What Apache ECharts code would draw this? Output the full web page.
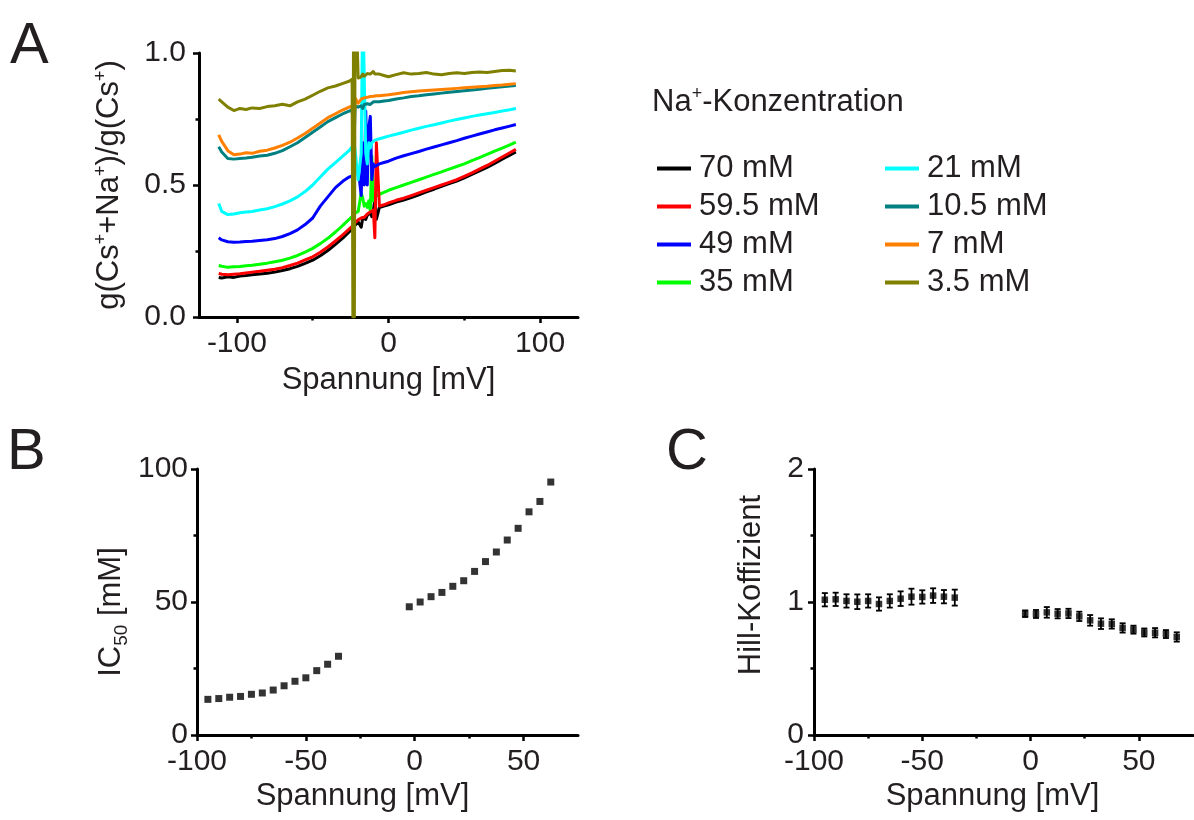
<!DOCTYPE html>
<html><head><meta charset="utf-8">
<script src="https://cdn.jsdelivr.net/npm/echarts@6/dist/echarts.min.js"></script>
<style>html,body{margin:0;padding:0;background:#fff}#c{width:1194px;height:820px}</style>
</head><body><div id="c"></div>
<script>
// ---------- Panel A data ----------
const voltageA = [-112,-110,-106,-102,-98,-94,-90,-85,-80,-75,-70,-65,-60,-55,-50,-45,-40,-35,-30,-26,-24,-23.5,-23,-22.5,-22,-20,-18,-17,-16,-15,-14,-13,-12,-11,-10,-9,-8,-6,-3,0,5,10,15,20,25,30,35,40,45,50,55,60,65,70,75,80,84];
const na70 = [0.150,0.148,0.152,0.150,0.155,0.157,0.160,0.163,0.166,0.170,0.176,0.183,0.192,0.203,0.215,0.232,0.252,0.275,0.300,0.322,0.333,0.340,0.330,0.345,0.350,0.360,0.340,0.375,0.380,0.370,0.385,0.390,0.395,0.380,0.400,0.450,0.370,0.415,0.420,0.425,0.435,0.443,0.452,0.463,0.474,0.484,0.495,0.505,0.515,0.527,0.540,0.553,0.567,0.582,0.598,0.613,0.625];
const na59 = [0.165,0.162,0.160,0.162,0.164,0.167,0.170,0.173,0.177,0.181,0.187,0.195,0.204,0.216,0.228,0.245,0.265,0.288,0.312,0.333,0.343,0.350,0.345,0.355,0.360,0.368,0.375,0.380,0.378,0.385,0.390,0.392,0.398,0.400,0.405,0.300,0.660,0.420,0.425,0.432,0.442,0.450,0.460,0.470,0.480,0.490,0.500,0.510,0.520,0.533,0.546,0.560,0.574,0.590,0.606,0.622,0.635];
const na49 = [0.300,0.292,0.285,0.283,0.284,0.286,0.287,0.290,0.293,0.297,0.305,0.316,0.330,0.350,0.375,0.420,0.455,0.490,0.515,0.530,0.535,0.530,0.540,0.545,0.550,0.560,0.460,0.660,0.500,0.780,0.500,0.720,0.760,0.520,0.580,0.570,0.575,0.580,0.585,0.590,0.602,0.611,0.619,0.627,0.636,0.644,0.652,0.660,0.668,0.677,0.685,0.693,0.701,0.709,0.716,0.723,0.729];
const na35 = [0.195,0.192,0.188,0.190,0.191,0.194,0.196,0.200,0.204,0.209,0.215,0.223,0.233,0.246,0.260,0.278,0.298,0.322,0.348,0.370,0.380,0.375,0.390,0.385,0.395,0.400,0.470,0.450,0.420,0.430,0.415,0.440,0.400,0.610,0.440,0.455,0.460,0.465,0.472,0.480,0.490,0.500,0.510,0.520,0.530,0.540,0.550,0.560,0.570,0.580,0.592,0.604,0.616,0.628,0.640,0.652,0.662];
const na21 = [0.430,0.400,0.388,0.390,0.395,0.398,0.400,0.405,0.410,0.418,0.428,0.440,0.455,0.475,0.500,0.530,0.560,0.585,0.610,0.630,0.645,0.640,0.650,0.655,0.660,0.520,0.620,1.200,1.200,0.620,0.580,0.660,0.640,0.660,0.665,0.670,0.670,0.675,0.680,0.685,0.692,0.700,0.708,0.715,0.722,0.728,0.735,0.742,0.748,0.754,0.760,0.765,0.770,0.775,0.780,0.785,0.790];
const na10 = [0.645,0.625,0.600,0.598,0.600,0.602,0.605,0.610,0.613,0.620,0.630,0.645,0.660,0.680,0.700,0.720,0.740,0.755,0.770,0.780,0.785,0.740,0.790,0.700,0.800,0.795,0.800,0.790,0.805,0.800,0.808,0.810,0.805,0.812,0.815,0.810,0.815,0.815,0.818,0.820,0.826,0.830,0.835,0.838,0.842,0.845,0.848,0.851,0.854,0.857,0.860,0.863,0.866,0.869,0.872,0.875,0.877];
const na7 = [0.690,0.665,0.630,0.615,0.617,0.622,0.620,0.628,0.632,0.640,0.650,0.662,0.678,0.695,0.715,0.735,0.755,0.770,0.785,0.795,0.800,0.760,0.820,0.750,0.830,0.810,0.825,0.820,0.830,0.825,0.832,0.830,0.835,0.833,0.836,0.835,0.838,0.838,0.840,0.842,0.846,0.850,0.853,0.856,0.858,0.860,0.862,0.864,0.866,0.868,0.870,0.872,0.874,0.877,0.879,0.882,0.884];
const na3 = [0.825,0.815,0.795,0.782,0.790,0.786,0.792,0.790,0.797,0.800,0.806,0.800,0.815,0.825,0.840,0.855,0.868,0.875,0.885,0.893,0.900,0.000,1.300,0.000,1.300,0.905,0.910,0.920,0.912,0.918,0.922,0.915,0.920,0.925,0.930,0.920,0.925,0.920,0.915,0.910,0.918,0.925,0.920,0.922,0.926,0.920,0.918,0.922,0.925,0.922,0.926,0.928,0.926,0.930,0.934,0.935,0.932];
const concNames = ['70 mM','59.5 mM','49 mM','35 mM','21 mM','10.5 mM','7 mM','3.5 mM'];
const concValues = [na70, na59, na49, na35, na21, na10, na7, na3];

// ---------- Panel B data ----------
const voltageB1 = [-95,-90,-85,-80,-75,-70,-65,-60,-55,-50,-45,-40,-35];
const ic50B1 = [13.4,13.7,14.2,14.5,15.3,15.8,16.9,18.5,20.2,21.5,24.2,26.6,29.6];
const voltageB2 = [-2.5,2.5,7.5,12.5,17.5,22.5,27.5,32.5,37.5,42.5,47.5,52.5,57.5,62.5];
const ic50B2 = [48.2,50.0,52.0,53.6,55.9,58.0,61.5,65.2,68.8,73.3,77.7,83.9,87.8,95.1];

// ---------- Panel C data ----------
const voltageC1 = [-95,-90,-85,-80,-75,-70,-65,-60,-55,-50,-45,-40,-35];
const hillC1 = [1.017,1.020,1.008,1.002,1.008,0.985,1.008,1.025,1.040,1.038,1.048,1.040,1.033];
const hillErrC1 = [0.05,0.05,0.05,0.055,0.05,0.05,0.05,0.055,0.06,0.05,0.055,0.05,0.06];
const voltageC2 = [-2.5,2.5,7.5,12.5,17.5,22.5,27.5,32.5,37.5,42.5,47.5,52.5,57.5,62.5,67.5];
const hillC2 = [0.912,0.910,0.922,0.912,0.914,0.892,0.862,0.837,0.835,0.805,0.792,0.771,0.769,0.759,0.737];
const hillErrC2 = [0.025,0.03,0.04,0.035,0.035,0.035,0.04,0.04,0.035,0.035,0.03,0.03,0.035,0.03,0.035];

// ---------- tick labels ----------
const ticksAx = [-100,0,100], minorAx = [-50,50];
const ticksAy = [0,0.5,1], minorAy = [0.25,0.75];
const ticksBx = [-100,-50,0,50], minorBx = [-75,-25,25];
const ticksBy = [0,50,100], minorBy = [25,75];
const ticksCy = [0,1,2], minorCy = [0.5,1.5];

// ---------- styling ----------
const FONT = "'Liberation Sans', Arial, sans-serif";
const TXT = '#231f20';
const colors = ['#000000','#ff0000','#0000ff','#00ff00','#00ffff','#008080','#ff8000','#808000'];
const drawOrder = [0,3,1,2,4,5,6,7];
const sup = {fontSize: 18, verticalAlign: 'top', fontFamily: FONT, color: TXT, lineHeight: 34};
const sub = {fontSize: 19, verticalAlign: 'bottom', fontFamily: FONT, color: TXT, lineHeight: 40};

const chart = echarts.init(document.getElementById('c'), null, {renderer: 'canvas'});

const grids = [
  {left: 199, top: 53, width: 379, height: 264},
  {left: 197, top: 469, width: 381, height: 266},
  {left: 814, top: 469, width: 379, height: 266}
];

function mainAxis(dim, gi, min, max, ticks, extra) {
  return Object.assign({
    type: 'value', gridIndex: gi, min: min, max: max,
    position: dim === 'x' ? 'bottom' : 'left',
    splitLine: {show: false},
    axisLine: {show: true, onZero: false, lineStyle: {color: '#000', width: 3}},
    axisTick: {show: true, customValues: ticks, length: 6, lineStyle: {color: '#000', width: 2.5}},
    axisLabel: {show: true, customValues: ticks, fontSize: 30, color: TXT, fontFamily: FONT, margin: 12},
    nameLocation: 'middle',
    nameTextStyle: {fontSize: 31, color: TXT, fontFamily: FONT}
  }, extra || {});
}
function minorAxis(dim, gi, min, max, ticks) {
  return {
    type: 'value', gridIndex: gi, min: min, max: max,
    position: dim === 'x' ? 'bottom' : 'left',
    splitLine: {show: false},
    axisLine: {show: false, onZero: false},
    axisLabel: {show: false},
    axisTick: {show: true, customValues: ticks, length: 3.5, lineStyle: {color: '#000', width: 2.5}}
  };
}

const xAxis = [
  mainAxis('x', 0, -125, 125, ticksAx, {name: 'Spannung [mV]', nameGap: 48}),
  minorAxis('x', 0, -125, 125, minorAx),
  mainAxis('x', 1, -100, 75, ticksBx, {name: 'Spannung [mV]', nameGap: 46,
    nameTextStyle: {fontSize: 31, color: TXT, fontFamily: FONT, padding: [0, 50, 0, 0]}}),
  minorAxis('x', 1, -100, 75, minorBx),
  mainAxis('x', 2, -100, 75, ticksBx, {name: 'Spannung [mV]', nameGap: 46,
    nameTextStyle: {fontSize: 31, color: TXT, fontFamily: FONT, padding: [0, 22, 0, 0]}}),
  minorAxis('x', 2, -100, 75, minorBx)
];
const yAxis = [
  mainAxis('y', 0, 0, 1, ticksAy, {name: 'g(Cs{s|+}+Na{s|+})/g(Cs{s|+})', nameGap: 73, nameRotate: 90,
    nameTextStyle: {fontSize: 31, color: TXT, fontFamily: FONT, lineHeight: 34, rich: {s: sup}}}),
  minorAxis('y', 0, 0, 1, minorAy),
  mainAxis('y', 1, 0, 100, ticksBy, {name: 'IC{b|50} [mM]', nameGap: 66, nameRotate: 90,
    nameTextStyle: {fontSize: 31, color: TXT, fontFamily: FONT, lineHeight: 34, padding: [0, 20, 0, 0], rich: {b: sub}}}),
  minorAxis('y', 1, 0, 100, minorBy),
  mainAxis('y', 2, 0, 2, ticksCy, {name: 'Hill-Koffizient', nameGap: 47, nameRotate: 90,
    nameTextStyle: {fontSize: 31, color: TXT, fontFamily: FONT, padding: [0, 0, 0, 34]}}),
  minorAxis('y', 2, 0, 2, minorCy)
];
yAxis[0].axisLabel.formatter = v => v.toFixed(1);
yAxis[0].axisLabel.margin = 13;
yAxis[2].axisLabel.margin = 9;
yAxis[4].axisLabel.margin = 10;

const series = [];
drawOrder.forEach(i => {
  series.push({
    type: 'line', name: concNames[i], xAxisIndex: 0, yAxisIndex: 0,
    data: voltageA.map((v, k) => [v, concValues[i][k]]),
    showSymbol: false, symbol: 'none', clip: true,
    lineStyle: {color: colors[i], width: 3, join: 'round'},
    itemStyle: {color: colors[i]},
    animation: false
  });
});
[[voltageB1, ic50B1], [voltageB2, ic50B2]].forEach(([xs, ys]) => {
  series.push({
    type: 'scatter', xAxisIndex: 2, yAxisIndex: 2, symbol: 'rect', symbolSize: 7,
    itemStyle: {color: '#000'}, data: xs.map((v, k) => [v, ys[k]]), animation: false
  });
});
function errRender(params, api) {
  const x = api.value(0), y = api.value(1), e = api.value(2);
  const t = api.coord([x, y + e]), b = api.coord([x, y - e]);
  const w = 3, st = {stroke: '#000', lineWidth: 1.8};
  return {type: 'group', children: [
    {type: 'line', shape: {x1: t[0], y1: t[1], x2: b[0], y2: b[1]}, style: st},
    {type: 'line', shape: {x1: t[0] - w, y1: t[1], x2: t[0] + w, y2: t[1]}, style: st},
    {type: 'line', shape: {x1: b[0] - w, y1: b[1], x2: b[0] + w, y2: b[1]}, style: st}
  ]};
}
[[voltageC1, hillC1, hillErrC1], [voltageC2, hillC2, hillErrC2]].forEach(([xs, ys, es]) => {
  series.push({
    type: 'custom', xAxisIndex: 4, yAxisIndex: 4, renderItem: errRender,
    encode: {x: 0, y: 1}, data: xs.map((v, k) => [v, ys[k], es[k]]), animation: false
  });
  series.push({
    type: 'scatter', xAxisIndex: 4, yAxisIndex: 4, symbol: 'rect', symbolSize: 6.5,
    itemStyle: {color: '#000'}, data: xs.map((v, k) => [v, ys[k]]), animation: false
  });
});

const legendBase = {
  orient: 'vertical', icon: 'rect', itemWidth: 34, itemHeight: 4, itemGap: 7, padding: 0,
  selectedMode: false,
  textStyle: {fontSize: 31, lineHeight: 31, color: TXT, fontFamily: FONT, padding: [0, 0, 0, 3]}
};

chart.setOption({
  animation: false,
  backgroundColor: '#fff',
  grid: grids,
  xAxis: xAxis,
  yAxis: yAxis,
  series: series,
  legend: [
    Object.assign({}, legendBase, {left: 657, top: 153, data: concNames.slice(0, 4)}),
    Object.assign({}, legendBase, {left: 885, top: 153, data: concNames.slice(4)})
  ],
  graphic: [
    {type: 'text', left: 10, top: 18, style: {text: 'A', fontSize: 58, fontFamily: FONT, fill: TXT}},
    {type: 'text', left: 7, top: 424, style: {text: 'B', fontSize: 58, fontFamily: FONT, fill: TXT}},
    {type: 'text', left: 666, top: 424, style: {text: 'C', fontSize: 58, fontFamily: FONT, fill: TXT}},
    {type: 'text', left: 652, top: 85, style: {
      text: 'Na{s|+}-Konzentration', fontSize: 31, fontFamily: FONT, fill: TXT, lineHeight: 34,
      rich: {s: {fontSize: 18, verticalAlign: 'top', fontFamily: FONT, fill: TXT, lineHeight: 34}}}}
  ]
});
</script>
</body></html>
